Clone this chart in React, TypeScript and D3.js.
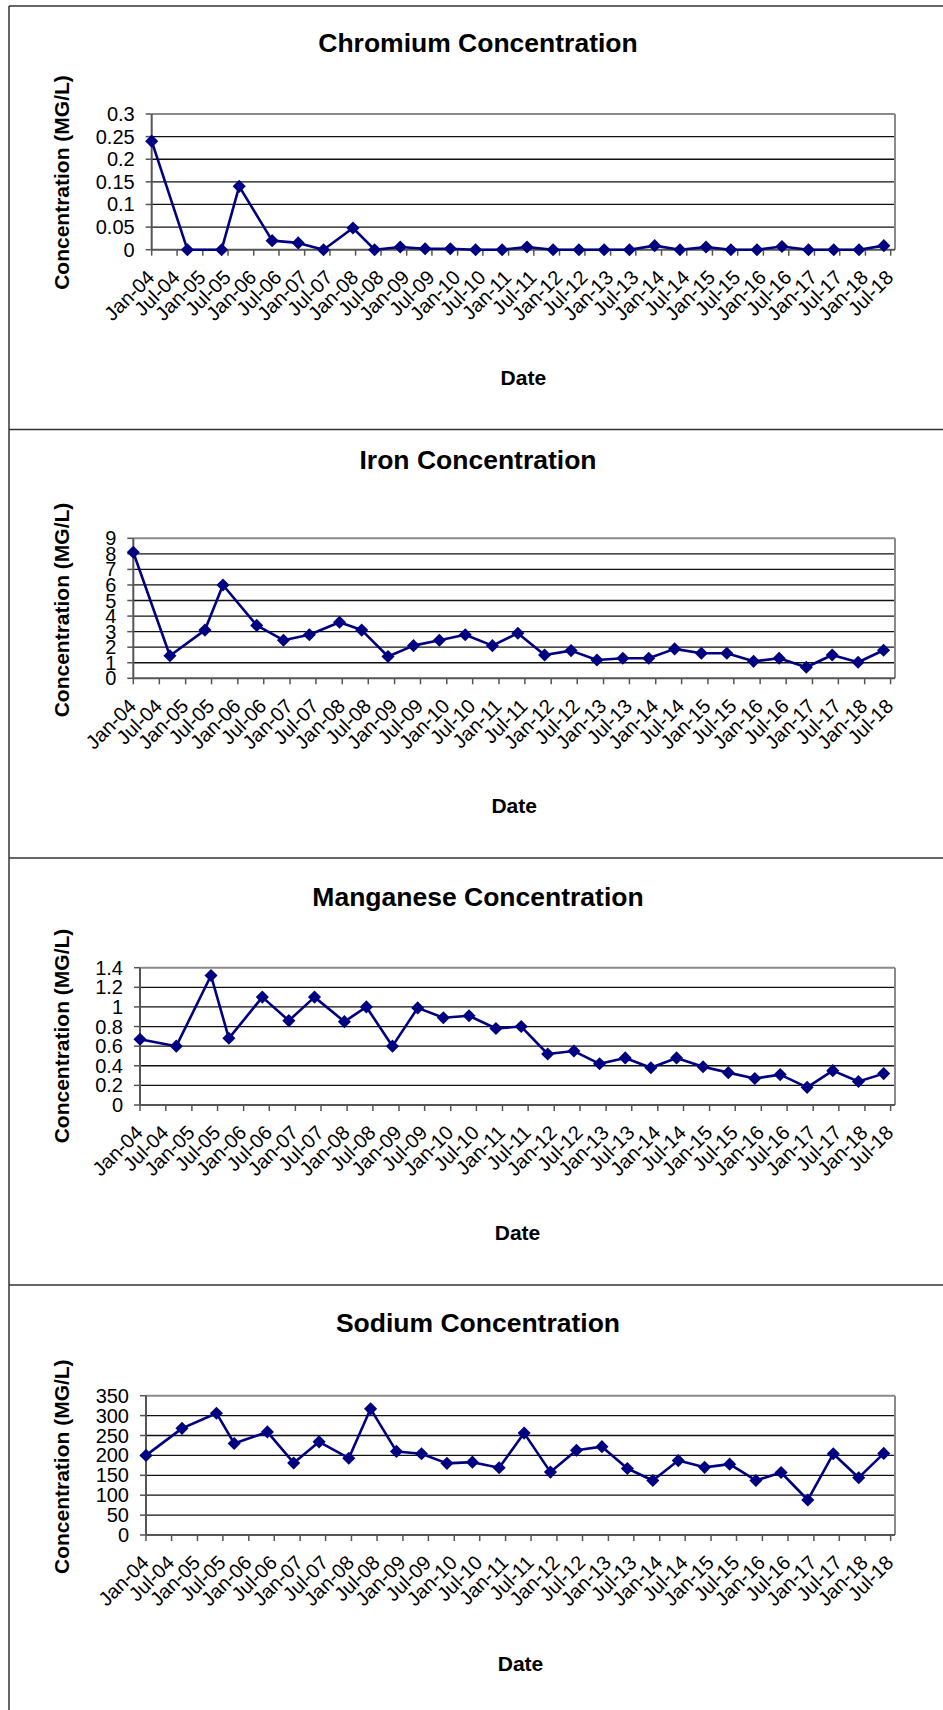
import React from "react";
import * as d3 from "d3";

const sampleDates = [
  "2004-01-01", "2004-09-13", "2005-05-16", "2005-09-19", "2006-05-13",
  "2006-11-16", "2007-05-16", "2007-12-13", "2008-05-16", "2008-11-16",
  "2009-05-13", "2009-11-10", "2010-05-10", "2010-11-16", "2011-05-13",
  "2011-11-16", "2012-05-19", "2012-11-16", "2013-05-16", "2013-11-13",
  "2014-05-13", "2014-11-16", "2015-05-13", "2015-11-16", "2016-05-13",
  "2016-11-19", "2017-05-19", "2017-11-16", "2018-05-13",
];

const chromium = [
  0.24, 0, 0, 0.14, 0.02, 0.015, 0, 0.048, 0, 0.006,
  0.002, 0.002, 0, 0, 0.006, 0, 0, 0, 0, 0.009,
  0, 0.006, 0, 0, 0.007, 0, 0, 0, 0.009,
];
const iron = [
  8.1, 1.45, 3.1, 6.0, 3.4, 2.45, 2.8, 3.6, 3.1, 1.4,
  2.1, 2.45, 2.8, 2.1, 2.9, 1.5, 1.78, 1.18, 1.29, 1.29,
  1.89, 1.61, 1.61, 1.09, 1.29, 0.71, 1.5, 1.03, 1.8,
];
const manganese = [
  0.67, 0.6, 1.32, 0.68, 1.1, 0.86, 1.1, 0.85, 1.0, 0.6,
  0.99, 0.89, 0.91, 0.78, 0.8, 0.52, 0.55, 0.42, 0.48, 0.38,
  0.48, 0.39, 0.33, 0.27, 0.31, 0.18, 0.35, 0.24, 0.32,
];
const sodium = [
  200, 268, 306, 230, 259, 181, 234, 193, 317, 210,
  204, 180, 183, 169, 256, 158, 213, 222, 167, 137,
  187, 170, 178, 137, 157, 88, 204, 144, 205,
];

const chromiumTicks = [0, 0.05, 0.1, 0.15, 0.2, 0.25, 0.3];
const ironTicks = [0, 1, 2, 3, 4, 5, 6, 7, 8, 9];
const manganeseTicks = [0, 0.2, 0.4, 0.6, 0.8, 1, 1.2, 1.4];
const sodiumTicks = [0, 50, 100, 150, 200, 250, 300, 350];

const axisStart = "2004-01-01";
const axisEnd = "2018-08-01";
const lastTick = "2018-07-01";

const titles = [
  "Chromium Concentration",
  "Iron Concentration",
  "Manganese Concentration",
  "Sodium Concentration",
];
const yAxisTitle = "Concentration (MG/L)";
const xAxisTitle = "Date";

const panels = [
  { title: titles[0], values: chromium, ticks: chromiumTicks, L: 151.7, R: 895, T: 114, B: 249.7, titleY: 52, yLabelY: 182.5, dateY: 385 },
  { title: titles[1], values: iron, ticks: ironTicks, L: 133.3, R: 895, T: 538.3, B: 678.3, titleY: 469, yLabelY: 610, dateY: 812.7 },
  { title: titles[2], values: manganese, ticks: manganeseTicks, L: 140, R: 895, T: 967.7, B: 1105, titleY: 905.7, yLabelY: 1036, dateY: 1240 },
  { title: titles[3], values: sodium, ticks: sodiumTicks, L: 146, R: 895, T: 1395.7, B: 1535, titleY: 1331.7, yLabelY: 1466.7, dateY: 1670.7 },
];

const FONT = "'Liberation Sans', Arial, Helvetica, sans-serif";
const NAVY = "#000080";
const parse = d3.timeParse("%Y-%m-%d");
const fmt = d3.timeFormat("%b-%y");
const dates = sampleDates.map((s) => parse(s) as Date);
const xTicks = d3.timeMonth.every(6)!.range(parse(axisStart) as Date, d3.timeDay.offset(parse(lastTick) as Date, 1));

function Panel({ p }: { p: typeof panels[number] }) {
  const x = d3.scaleTime().domain([parse(axisStart) as Date, parse(axisEnd) as Date]).range([p.L, p.R]);
  const yMax = p.ticks[p.ticks.length - 1];
  const y = d3.scaleLinear().domain([0, yMax]).range([p.B, p.T]);
  const line = d3.line<number>().x((_, i) => x(dates[i])).y((v) => y(v));
  const diamond = d3.symbol(d3.symbolSquare, 86)();
  const cx = (p.L + p.R) / 2;
  return (
    <g>
      <text x={478} y={p.titleY} textAnchor="middle" fontFamily={FONT} fontWeight="bold" fontSize={26.5}>{p.title}</text>
      <text transform={`translate(69,${p.yLabelY}) rotate(-90)`} textAnchor="middle" fontFamily={FONT} fontWeight="bold" fontSize={21}>{yAxisTitle}</text>
      <text x={cx} y={p.dateY} textAnchor="middle" fontFamily={FONT} fontWeight="bold" fontSize={21}>{xAxisTitle}</text>
      {/* gridlines */}
      {p.ticks.slice(1, -1).map((t) => (
        <line key={t} x1={p.L} x2={p.R} y1={y(t)} y2={y(t)} stroke="#111" strokeWidth={1.3} />
      ))}
      {/* frame top/right */}
      <line x1={p.L} x2={p.R} y1={y(yMax)} y2={y(yMax)} stroke="#8a8a8a" strokeWidth={2} />
      <line x1={p.R} x2={p.R} y1={p.T} y2={p.B} stroke="#8a8a8a" strokeWidth={2} />
      {/* axes */}
      <line x1={p.L} x2={p.L} y1={p.T} y2={p.B} stroke="#555" strokeWidth={2} />
      <line x1={p.L} x2={p.R} y1={p.B} y2={p.B} stroke="#555" strokeWidth={2} />
      {p.ticks.map((t) => (
        <g key={"yt" + t}>
          <line x1={p.L - 6} x2={p.L} y1={y(t)} y2={y(t)} stroke="#555" strokeWidth={1.5} />
          <text x={p.L - 17} y={y(t)} dy="0.35em" textAnchor="end" fontFamily={FONT} fontSize={20}>{String(t)}</text>
        </g>
      ))}
      {xTicks.map((d, i) => (
        <g key={"xt" + i}>
          <line x1={x(d)} x2={x(d)} y1={p.B} y2={p.B + 6} stroke="#555" strokeWidth={1.5} />
          <text transform={`translate(${x(d) + 4},${p.B + 29}) rotate(-45)`} textAnchor="end" fontFamily={FONT} fontSize={20}>{fmt(d)}</text>
        </g>
      ))}
      <path d={line(p.values) || ""} fill="none" stroke={NAVY} strokeWidth={2.6} strokeLinejoin="round" />
      {p.values.map((v, i) => (
        <path key={"m" + i} d={diamond || ""} transform={`translate(${x(dates[i])},${y(v)}) rotate(45)`} fill={NAVY} />
      ))}
    </g>
  );
}

export default function App() {
  const W = 943;
  const H = 1710;
  const seps = [6, 429.5, 858, 1285];
  return (
    <svg width={W} height={H} style={{ position: "absolute", left: 0, top: 0, background: "#fff" }}>
      <rect x={0} y={0} width={W} height={H} fill="#fff" />
      {seps.map((s) => (
        <line key={s} x1={9} x2={W} y1={s} y2={s} stroke="#333" strokeWidth={1.5} />
      ))}
      <line x1={9} x2={9} y1={6} y2={H} stroke="#333" strokeWidth={1.5} />
      {panels.map((p) => (
        <Panel key={p.title} p={p} />
      ))}
    </svg>
  );
}
